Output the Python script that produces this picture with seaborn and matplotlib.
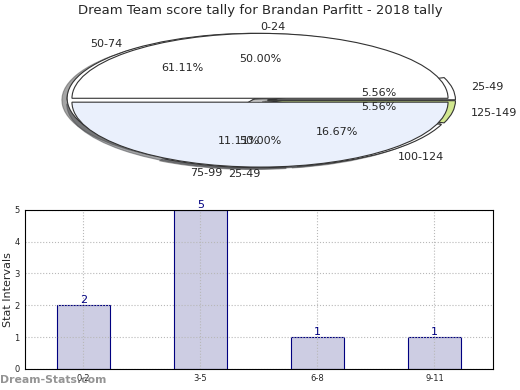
import matplotlib
matplotlib.use("Agg")
import matplotlib.pyplot as plt
import seaborn as sns
import pandas as pd

sns.set_style("white")
plt.rcParams['font.family'] = ['DejaVu Sans']

title = "Dream Team score tally for Brandan Parfitt - 2018 tally"

# Pie A (drawn on top)
pie_a_labels = ["0-24", "25-49"]
pie_a_values = [1, 1]
pie_a_colors = ["#ffffff", "#eaf0fc"]

# Pie B (drawn underneath)
pie_b_labels = ["25-49", "50-74", "75-99", "100-124", "125-149"]
pie_b_values = [1, 11, 2, 3, 1]
pie_b_colors = ["#ffffff", "#ffffff", "#ffffff", "#ffffff", "#d2e890"]

# Bar chart
bar_categories = ["0-2", "3-5", "6-8", "9-11"]
bar_values = [2, 5, 1, 1]

fig = plt.figure(figsize=(5.2, 3.9), dpi=100)

# ---- pie ----
axp = fig.add_axes([0.048, 0.535, 0.904, 0.416])
wp = dict(edgecolor="#333333", linewidth=0.8)
axp.pie(pie_b_values, labels=pie_b_labels, colors=pie_b_colors, autopct="%.2f%%",
        explode=[0.04] * len(pie_b_values), shadow=True, startangle=0,
        pctdistance=0.6, labeldistance=1.1, wedgeprops=wp,
        textprops=dict(fontsize=8))
wa, ta, pa = axp.pie(pie_a_values, labels=pie_a_labels, colors=pie_a_colors,
                     autopct="%.2f%%", explode=[0.03, 0.03], shadow=True,
                     startangle=0, pctdistance=0.6, labeldistance=1.1,
                     wedgeprops=wp, textprops=dict(fontsize=8))
ta[0].set_ha("left")
ta[1].set_ha("right")
axp.set_aspect("auto")
axp.set_xlim(-1.25, 1.25)
axp.set_ylim(-1.25, 1.25)
axp.axis("off")

fig.text(0.5, 0.974, title, ha="center", va="center", fontsize=9.5)

# ---- bars ----
axb = fig.add_axes([0.048, 0.054, 0.9, 0.408])
df = pd.DataFrame({"cat": bar_categories, "val": bar_values})
sns.barplot(data=df, x="cat", y="val", ax=axb, color="#cdcde3", saturation=1,
            width=0.45, edgecolor="#000080", linewidth=0.8, zorder=1)
axb.set_xlim(-0.5, 3.5)
axb.set_ylim(0, 5)
axb.set_yticks(range(0, 6))
axb.set_axisbelow(False)
axb.grid(True, linestyle=":", color="#b8b8b8", linewidth=0.8, zorder=3)
for i, v in enumerate(bar_values):
    axb.text(i, v, str(v), ha="center", va="bottom", color="#000080", fontsize=8)
axb.tick_params(axis="both", labelsize=6, length=2, pad=2)
axb.set_ylabel("Stat Intervals", fontsize=8)
axb.yaxis.set_label_coords(-0.026, 0.5)
axb.set_xlabel("Frequency", fontsize=8, labelpad=6)
for s in axb.spines.values():
    s.set_color("black")
    s.set_linewidth(0.8)
    s.set_zorder(5)

fig.text(0.0, 0.025, "Dream-Stats.com", fontsize=7.8, fontweight="bold",
         color="#888888", alpha=0.9, ha="left", va="center")

fig.savefig("out.png", dpi=100)
